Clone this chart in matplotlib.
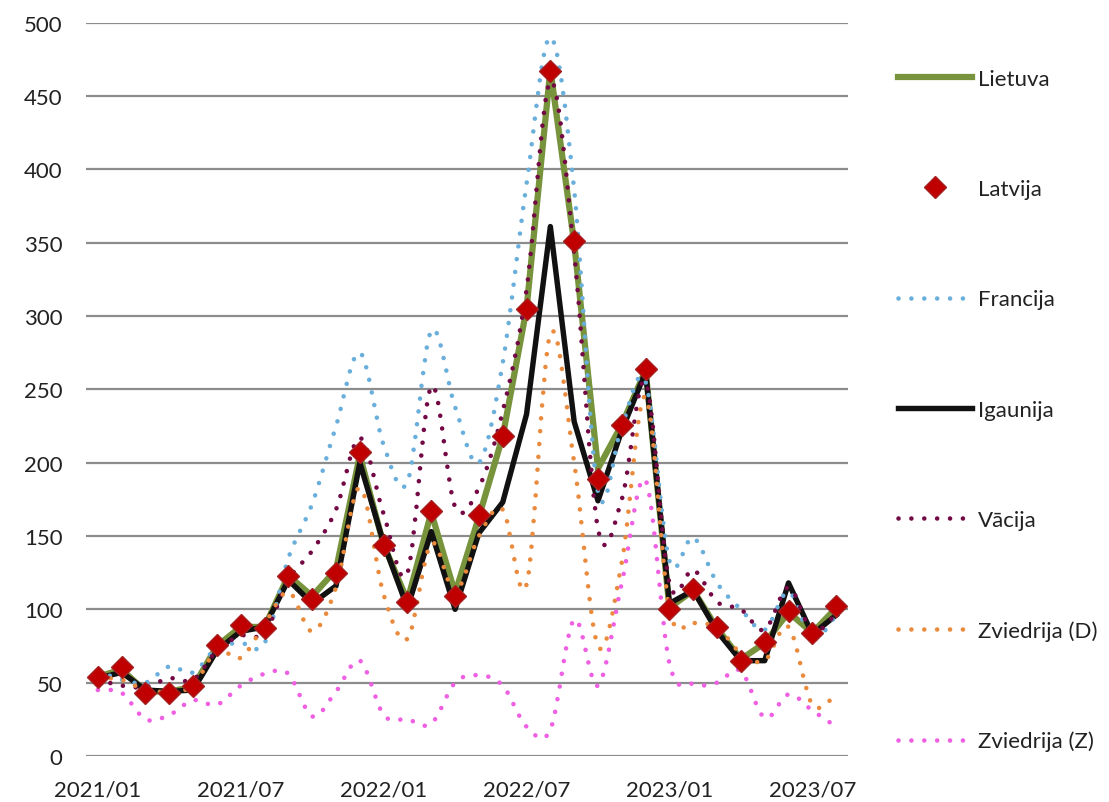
import matplotlib
matplotlib.use("Agg")
import matplotlib.pyplot as plt
from matplotlib.path import Path
from matplotlib.patches import PathPatch
from matplotlib.lines import Line2D
import numpy as np

months = ['2021/01', '2021/02', '2021/03', '2021/04', '2021/05', '2021/06',
          '2021/07', '2021/08', '2021/09', '2021/10', '2021/11', '2021/12',
          '2022/01', '2022/02', '2022/03', '2022/04', '2022/05', '2022/06',
          '2022/07', '2022/08', '2022/09', '2022/10', '2022/11', '2022/12',
          '2023/01', '2023/02', '2023/03', '2023/04', '2023/05', '2023/06',
          '2023/07', '2023/08']

lietuva = [54, 59, 44, 44, 47, 75, 88, 88, 123, 109, 127, 205, 144, 106, 166, 111,
           163, 218, 305, 468, 350, 196, 226, 263, 101, 113, 87, 66, 77, 98, 84, 101]
latvija = [54, 61, 43, 43, 48, 76, 89, 87, 123, 107, 125, 207, 144, 105, 167, 109,
           164, 218, 305, 467, 351, 189, 226, 264, 100, 114, 88, 65, 78, 99, 84, 102]
francija = [58, 52, 50, 61, 57, 74, 77, 77, 135, 172, 225, 275, 212, 187, 290, 238,
            200, 268, 390, 490, 386, 180, 225, 255, 133, 149, 118, 100, 86, 112, 80, 96]
igaunija = [53, 57, 45, 44, 45, 72, 85, 88, 120, 104, 116, 200, 145, 101, 153, 100,
            152, 173, 233, 361, 228, 174, 222, 262, 104, 113, 85, 65, 65, 118, 83, 96]
vacija = [52, 48, 47, 53, 52, 72, 82, 84, 120, 140, 168, 217, 165, 125, 252, 170,
          183, 235, 318, 460, 343, 155, 175, 255, 118, 127, 105, 100, 86, 115, 85, 97]
zviedrija_d = [53, 52, 45, 44, 48, 72, 67, 90, 112, 85, 115, 183, 110, 80, 145, 112,
               150, 168, 117, 288, 200, 75, 132, 245, 100, 91, 88, 70, 65, 88, 35, 42]
zviedrija_z = [45, 43, 25, 28, 38, 35, 48, 56, 56, 27, 44, 65, 28, 25, 22, 50,
               55, 48, 20, 18, 93, 48, 118, 188, 63, 49, 50, 58, 26, 42, 31, 20]

plt.rcParams['font.family'] = ['Lato', 'DejaVu Sans']
TXT = '#222222'
DOTS = (0, (0.01, 2.8))


def smooth_path(y):
    # bezier path through the points, like excel's smoothed line
    x = np.arange(len(y), dtype=float)
    y = np.asarray(y, dtype=float)
    pts = np.column_stack([x, y])
    verts = [pts[0]]
    codes = [Path.MOVETO]
    n = len(pts)
    for i in range(n - 1):
        p0 = pts[i - 1] if i > 0 else pts[i]
        p1 = pts[i]
        p2 = pts[i + 1]
        p3 = pts[i + 2] if i + 2 < n else pts[i + 1]
        c1 = p1 + (p2 - p0) / 6.0
        c2 = p2 - (p3 - p1) / 6.0
        verts += [c1, c2, p2]
        codes += [Path.CURVE4] * 3
    return Path(verts, codes)


fig = plt.figure(figsize=(11.09, 8.03), dpi=100)
ax = fig.add_axes([0.0775, 0.0573, 0.6872, 0.9132])

x = np.arange(len(months))

ax.plot(x, lietuva, color='#77933C', lw=4.5, solid_joinstyle='miter', zorder=3)

dotted = [(francija, '#6AAFDB'), (None, None), (vacija, '#730845'),
          (zviedrija_d, '#EA8A3C'), (zviedrija_z, '#EE5FE2')]
for vals, col in dotted:
    if vals is None:
        ax.plot(x, igaunija, color='#111111', lw=3.9, zorder=4)
        continue
    ax.add_patch(PathPatch(smooth_path(vals), fill=False, edgecolor=col, lw=3.3,
                           linestyle=DOTS, capstyle='round', zorder=5))

ax.plot(x, latvija, linestyle='none', marker='D', ms=11.5, color='#C00000',
        markeredgecolor='#A52020', markeredgewidth=1, zorder=10)

ax.set_xlim(-0.5, len(months) - 0.5)
ax.set_ylim(0, 500)
ax.set_yticks(range(0, 501, 50))
ax.set_xticks(x[::6])
ax.set_xticklabels(months[::6])
ax.grid(axis='y', color='#8C8C8C', lw=1.6)
ax.set_axisbelow(True)
for s in ax.spines.values():
    s.set_visible(False)
ax.tick_params(axis='y', length=0, pad=17, labelsize=16, labelcolor=TXT)
ax.tick_params(axis='x', length=0, pad=17, labelsize=16, labelcolor=TXT)

handles = [
    Line2D([], [], color='#77933C', lw=4.5),
    Line2D([], [], linestyle='none', marker='D', ms=11, color='#C00000',
           markeredgecolor='#A52020'),
    Line2D([], [], color='#6AAFDB', lw=3.3, linestyle=DOTS, dash_capstyle='round'),
    Line2D([], [], color='#111111', lw=3.9),
    Line2D([], [], color='#730845', lw=3.3, linestyle=DOTS, dash_capstyle='round'),
    Line2D([], [], color='#EA8A3C', lw=3.3, linestyle=DOTS, dash_capstyle='round'),
    Line2D([], [], color='#EE5FE2', lw=3.3, linestyle=DOTS, dash_capstyle='round'),
]
labels = ['Lietuva', 'Latvija', 'Francija', 'Igaunija', 'Vācija',
          'Zviedrija (D)', 'Zviedrija (Z)']
leg = fig.legend(handles, labels, loc='upper left', bbox_to_anchor=(0.81, 0.913),
                 frameon=False, fontsize=16, borderpad=0, borderaxespad=0,
                 handlelength=3.33, handletextpad=0.25, labelspacing=4.06)
for t in leg.get_texts():
    t.set_color(TXT)

fig.savefig('out.png', dpi=100)
